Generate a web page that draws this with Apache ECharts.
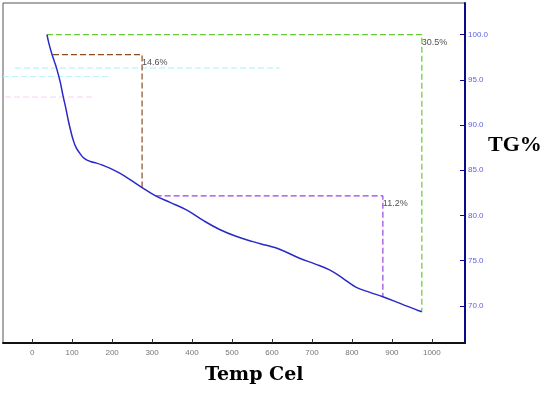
<!DOCTYPE html>
<html><head><meta charset="utf-8">
<script src="https://cdn.jsdelivr.net/npm/echarts@6/dist/echarts.min.js"></script>
<style>html,body{margin:0;padding:0;background:#fff}#c{width:550px;height:395px}</style>
</head><body><div id="c"></div>
<script>
// TG curve: temperature (°C) and mass (%)
var temps = [37, 42, 48.5, 55, 61, 70, 77.5, 84, 90, 96, 102.5, 110, 119, 127, 136, 148, 161, 177, 194, 219, 244, 275, 309, 345, 386, 428, 469, 510, 552.5, 586, 619, 669, 707, 744, 777.5, 811, 845, 877.5, 925, 969, 975];
var tg    = [100, 99.0, 97.97, 97.1, 96.3, 94.8, 93.17, 91.9, 90.59, 89.45, 88.37, 87.5, 86.9, 86.45, 86.16, 85.95, 85.79, 85.55, 85.24, 84.68, 84.0, 83.09, 82.17, 81.45, 80.62, 79.45, 78.45, 77.7, 77.11, 76.7, 76.27, 75.27, 74.65, 73.98, 73.06, 72.06, 71.5, 71.02, 70.2, 69.44, 69.36];
var xTicks = [0, 100, 200, 300, 400, 500, 600, 700, 800, 900, 1000];
var yTicks = [70, 75, 80, 85, 90, 95, 100];
// step annotations
var stepGreenT = [37, 975], stepGreenV = [100, 69.36];
var stepBrownT = [52, 275], stepBrownV = [97.79, 83.09];
var stepPurpleT = [309, 877.5], stepPurpleV = [82.17, 71.02];
var stepLabels = ['30.5%', '14.6%', '11.2%'];

var curve = temps.map(function (t, i) { return [t, tg[i]]; });
function stepLine(T, V) { return [[T[0], V[0]], [T[1], V[0]], [T[1], V[1]]]; }

var chart = echarts.init(document.getElementById('c'));
chart.setOption({
  animation: false,
  grid: { left: 3, right: 85, top: 3, bottom: 52, show: true, borderColor: '#555', borderWidth: 1 },
  xAxis: {
    type: 'value', min: -73, max: 1083, position: 'bottom',
    axisLine: { show: true, onZero: false, lineStyle: { color: '#111', width: 2 } },
    axisTick: { show: true, inside: true, length: 4, customValues: xTicks, lineStyle: { color: '#333' } },
    axisLabel: { customValues: xTicks, color: '#777', fontSize: 8, margin: 6, fontFamily: 'Liberation Sans',
      formatter: function (v) { return String(v); } },
    splitLine: { show: false }
  },
  yAxis: {
    type: 'value', min: 65.9, max: 103.5, position: 'right',
    axisLine: { show: true, onZero: false, lineStyle: { color: '#0a0a8a', width: 2 } },
    axisTick: { show: true, inside: true, length: 5, customValues: yTicks, lineStyle: { color: '#0a0a8a' } },
    axisLabel: { customValues: yTicks, color: '#6060e0', fontSize: 8, margin: 3, fontFamily: 'Liberation Sans',
      formatter: function (v) { return v.toFixed(1); } },
    splitLine: { show: false }
  },
  graphic: [
    { type: 'text', left: 205, top: 366, style: { text: 'Temp Cel', font: 'bold 19px "DejaVu Serif"', fill: '#000' } },
    { type: 'text', left: 488, top: 134, style: { text: 'TG%', font: 'bold 22px "Liberation Serif"', fill: '#000' } }
  ],
  series: [
    { type: 'line', data: [[-43, 96.31], [619, 96.31]], symbol: 'none', silent: true,
      lineStyle: { color: '#a8f0f8', width: 1, type: [6, 3] } },
    { type: 'line', data: [[-73, 95.38], [194, 95.38]], symbol: 'none', silent: true,
      lineStyle: { color: '#b8f4f8', width: 1, type: [6, 3] } },
    { type: 'line', data: [[-68, 93.1], [157, 93.1]], symbol: 'none', silent: true,
      lineStyle: { color: '#f8d0f4', width: 1, type: [6, 3] } },
    { type: 'line', data: stepLine(stepGreenT, stepGreenV), symbol: 'none',
      lineStyle: { color: '#66cc33', width: 1.2, type: [6, 3] } },
    { type: 'line', data: stepLine(stepBrownT, stepBrownV), symbol: 'none',
      lineStyle: { color: '#8b4a22', width: 1.2, type: [6, 3] } },
    { type: 'line', data: stepLine(stepPurpleT, stepPurpleV), symbol: 'none',
      lineStyle: { color: '#a040e0', width: 1.2, type: [6, 3] } },
    { type: 'line', data: curve, symbol: 'none', smooth: 0.4,
      lineStyle: { color: '#2a2ac8', width: 1.5 } },
    { type: 'scatter', symbolSize: 0,
      data: [[stepGreenT[1], stepGreenV[0]], [stepBrownT[1], stepBrownV[0]], [stepPurpleT[1], stepPurpleV[0]]],
      label: { show: true, position: 'right', distance: 0, offset: [0, 8], color: '#222', fontSize: 9,
        fontFamily: 'Liberation Sans',
        formatter: function (p) { return stepLabels[p.dataIndex]; } } }
  ]
});
</script></body></html>
